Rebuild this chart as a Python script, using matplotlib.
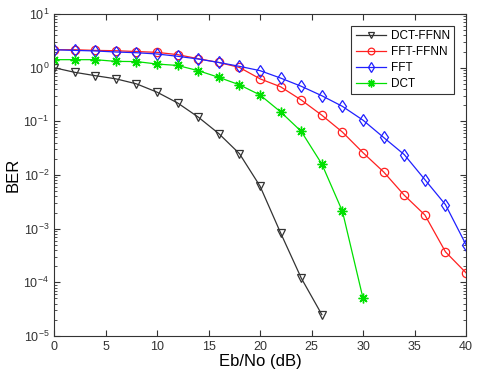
import numpy as np
import matplotlib
matplotlib.use('Agg')
import matplotlib.pyplot as plt
from matplotlib.ticker import LogLocator, NullFormatter

plt.rcParams['font.family'] = ['Liberation Sans', 'DejaVu Sans']

snr = np.arange(0, 42, 2)

dct_ffnn = [1.0, 0.82, 0.71, 0.62, 0.50, 0.35, 0.22, 0.12, 0.059, 0.025,
            0.0062, 8.3e-4, 1.2e-4, 2.5e-5]
fft_ffnn = [2.16, 2.16, 2.1, 2.07, 2.0, 1.93, 1.75, 1.47, 1.25, 1.01,
            0.62, 0.44, 0.25, 0.13, 0.063, 0.026, 0.0114, 0.0042, 0.0018,
            3.7e-4, 1.5e-4]
fft = [2.16, 2.1, 2.05, 1.96, 1.9, 1.8, 1.63, 1.45, 1.25, 1.06,
       0.88, 0.64, 0.45, 0.30, 0.19, 0.105, 0.05, 0.024, 0.0082,
       0.0028, 5e-4]
dct = [1.41, 1.41, 1.41, 1.31, 1.3, 1.17, 1.1, 0.88, 0.66, 0.48,
       0.31, 0.15, 0.065, 0.016, 0.0021, 5e-5]

fig = plt.figure(figsize=(4.8, 3.84), dpi=100)
ax = fig.add_axes([0.1125, 0.125, 0.8585, 0.8385])

ax.semilogy(snr[:len(dct_ffnn)], dct_ffnn, color='#333333', marker='v',
            mfc='none', ms=6, mew=0.9, lw=0.9, label='DCT-FFNN')
ax.semilogy(snr[:len(fft_ffnn)], fft_ffnn, color='#ff2020', marker='o',
            mfc='none', ms=6, mew=0.9, lw=0.9, label='FFT-FFNN')
ax.semilogy(snr[:len(fft)], fft, color='#2020ff', marker='d',
            mfc='none', ms=6.5, mew=0.9, lw=0.9, label='FFT')
ax.semilogy(snr[:len(dct)], dct, color='#00e000', marker=(8, 2, 0),
            ms=7, mew=1.0, lw=0.9, label='DCT')

ax.set_xlim(0, 40)
ax.set_ylim(1e-5, 10)
ax.set_xticks(np.arange(0, 45, 5))
ax.yaxis.set_minor_locator(LogLocator(base=10, subs=np.arange(2, 10)))
ax.yaxis.set_minor_formatter(NullFormatter())
ax.tick_params(which='both', direction='in', top=True, right=True,
               labelsize=9, colors='#333333')
ax.tick_params(which='major', length=4)
ax.tick_params(which='minor', length=2)
for s in ax.spines.values():
    s.set_color('#333333')
    s.set_linewidth(0.8)

ax.set_xlabel('Eb/No (dB)', fontsize=12, labelpad=1)
ax.set_ylabel('BER', fontsize=12, labelpad=2)

leg = ax.legend(loc='upper right', fontsize=8.5, fancybox=False,
                edgecolor='#333333', framealpha=1, borderpad=0.35,
                handlelength=2.6, labelspacing=0.35, markerscale=0.8,
                borderaxespad=1.0, handletextpad=0.4)
leg.get_frame().set_linewidth(0.8)

fig.savefig('out.png', dpi=100)
